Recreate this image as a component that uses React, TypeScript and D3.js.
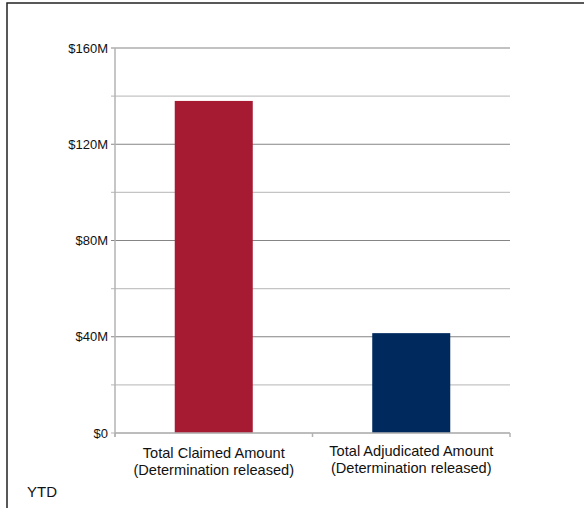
import React from "react";
import * as d3 from "d3";

const categories = [
  ["Total Claimed Amount", "(Determination released)"],
  ["Total Adjudicated Amount", "(Determination released)"],
];
const values = [138, 41.5]; // $M
const colors = ["#A61A32", "#002A5E"];
const majorTicks = [0, 40, 80, 120, 160];
const minorTicks = [20, 60, 100, 140];
const footnote = "YTD";

const W = 584;
const H = 508;
const M = { left: 115, right: 510, top: 48, bottom: 433 };

export default function App() {
  const x = d3
    .scaleBand<number>()
    .domain(d3.range(values.length))
    .range([M.left, M.right])
    .paddingInner(0.605)
    .paddingOuter(0.3025);
  const y = d3.scaleLinear().domain([0, 160]).range([M.bottom, M.top]);
  const step = (M.right - M.left) / values.length;
  const font = "'Liberation Sans', Arial, sans-serif";

  return (
    <svg
      width={W}
      height={H}
      style={{ position: "absolute", left: 0, top: 0, background: "#fff" }}
      fontFamily={font}
    >
      <rect x={7} y={3} width={W + 20} height={H + 20} fill="#fff" stroke="#222" strokeWidth={1.5} />
      {minorTicks.map((t) => (
        <line key={"mi" + t} x1={M.left - 4} x2={M.right} y1={y(t)} y2={y(t)} stroke="#c4c4c4" strokeWidth={1.3} />
      ))}
      {majorTicks.map((t) => (
        <line key={"ma" + t} x1={M.left - 4} x2={M.right} y1={y(t)} y2={y(t)} stroke={t === 0 ? "#b3b3b3" : "#858585"} strokeWidth={1} />
      ))}
      {values.map((v, i) => (
        <rect
          key={i}
          x={x(i)}
          y={y(v)}
          width={x.bandwidth()}
          height={y(0) - y(v)}
          fill={colors[i]}
        />
      ))}
      <line x1={M.left} x2={M.left} y1={M.top} y2={M.bottom + 4} stroke="#b3b3b3" strokeWidth={1.5} />
      <line x1={M.left} x2={M.right} y1={M.bottom} y2={M.bottom} stroke="#b3b3b3" strokeWidth={1.5} />
      {d3.range(values.length + 1).map((i) => (
        <line key={"xt" + i} x1={M.left + i * step} x2={M.left + i * step} y1={M.bottom} y2={M.bottom + 4} stroke="#b3b3b3" strokeWidth={1.5} />
      ))}
      {majorTicks.map((t) => (
        <text key={"tl" + t} x={108} y={y(t)} dy="0.35em" textAnchor="end" fontSize={13} fill="#111">
          {"$" + t + (t === 0 ? "" : "M")}
        </text>
      ))}
      {categories.map((lines, i) => (
        <text
          key={"c" + i}
          x={(x(i) as number) + x.bandwidth() / 2}
          y={i === 0 ? 458 : 456}
          textAnchor="middle"
          fontSize={14.6}
          fill="#111"
        >
          {lines.map((l, j) => (
            <tspan key={j} x={(x(i) as number) + x.bandwidth() / 2} dy={j === 0 ? 0 : 17}>
              {l}
            </tspan>
          ))}
        </text>
      ))}
      <text x={27} y={497} fontSize={15} fill="#111">
        {footnote}
      </text>
    </svg>
  );
}
